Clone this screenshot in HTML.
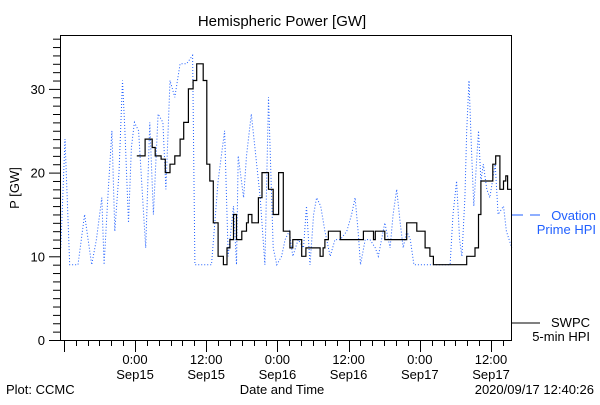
<!DOCTYPE html>
<html><head><meta charset="utf-8"><style>
html,body{margin:0;padding:0;background:#fff;}
svg text{font-family:"Liberation Sans",sans-serif;}
</style></head><body>
<svg id="chart" width="600" height="400" xmlns="http://www.w3.org/2000/svg">
<rect width="600" height="400" fill="#fff"/>
<text x="282" y="26" font-size="15" text-anchor="middle">Hemispheric Power [GW]</text>
<text transform="translate(19,188) rotate(-90)" font-size="13" text-anchor="middle">P [GW]</text>
<g id="axes"></g>
<g id="series"></g>
<rect x="60.5" y="35.5" width="451" height="305" fill="none" stroke="#000" stroke-width="1"/>
<line x1="512" y1="215" x2="523" y2="215" stroke="#1f5fff"/>
<line x1="530" y1="215" x2="540" y2="215" stroke="#1f5fff"/>
<text x="596" y="220" font-size="13" fill="#1f5fff" text-anchor="end">Ovation</text>
<text x="596" y="234" font-size="13" fill="#1f5fff" text-anchor="end">Prime HPI</text>
<line x1="512" y1="323" x2="540" y2="323" stroke="#000"/>
<text x="590" y="327" font-size="13" text-anchor="end">SWPC</text>
<text x="590" y="341" font-size="13" text-anchor="end">5-min HPI</text>
<text x="282" y="394" font-size="13" text-anchor="middle">Date and Time</text>
<text x="6" y="394" font-size="13">Plot: CCMC</text>
<text x="594" y="394" font-size="13" text-anchor="end">2020/09/17 12:40:26</text>
</svg>
<script>
const yTicks = [0, 10, 20, 30];
const xTickHours = [0, 12, 24, 36, 48, 60];
const xTickTimes = ["0:00", "12:00", "0:00", "12:00", "0:00", "12:00"];
const xTickDates = ["Sep15", "Sep15", "Sep16", "Sep16", "Sep17", "Sep17"];
const swpcHours = [0.3,1.2,1.7,2.7,2.9,3.4,4.0,4.4,5.1,5.9,6.7,7.6,8.2,9.0,9.8,10.4,11.0,11.5,12.1,12.6,13.2,14.0,14.9,15.5,16.0,16.6,17.1,18.0,18.8,19.1,19.7,20.2,20.8,21.4,21.9,22.5,23.3,23.6,24.2,24.6,25.0,25.8,26.1,26.6,27.8,28.1,28.8,30.9,31.2,31.7,32.0,32.6,34.6,37.6,38.5,39.9,40.2,40.5,42.1,45.2,45.8,46.9,47.5,48.3,48.9,49.7,50.3,55.6,55.9,56.7,57.3,57.9,58.3,59.8,60.3,60.8,61.5,62.1,62.5,62.8,63.5];
const swpcValues = [22,22,24,24,23,22,22,21.6,20,21,22,24,26,30,31,33,33,31,21,19,14,10,9,11,12,15,12,13,14,15,14,14,17,20,20,18,15,15,20,20,13,13,11,12,12,10,11,11,10,11,12,13,12,12,13,13,12,13,12,12,14,14,13,13,11,10,9,9,10,10,11,15,19,19,21,22,18,19,19.6,18,18];
const ovHours = [-12.5,-11.8,-11.0,-9.6,-8.5,-7.9,-7.3,-6.5,-5.6,-5.2,-4.5,-3.9,-3.4,-2.7,-2.1,-1.7,-1.1,-0.6,-0.1,0.6,1.2,1.8,2.5,3.1,3.9,4.7,5.2,5.9,6.7,7.6,8.7,9.7,10.1,12.9,14.0,15.1,15.7,16.6,17.1,17.4,18.3,18.8,19.6,20.2,21.1,21.9,22.5,23.3,23.9,24.7,25.3,26.0,26.6,27.5,28.4,28.9,29.5,30.1,30.6,31.3,32.0,32.9,33.7,34.6,35.7,36.5,37.1,37.6,38.0,38.8,39.6,40.5,41.0,42.1,43.0,43.5,44.1,44.7,45.2,45.8,46.4,47.0,53.1,53.6,54.2,54.7,55.1,55.6,55.9,56.3,56.7,57.1,57.9,58.3,58.7,59.3,59.8,60.7,61.2,62.1,62.6,63.5];
const ovValues = [11,24,9,9,15,12,9,12,17,9,18,25,13,20,31,25,14,23,26,25,18,11,26,15,27,26,18,31,29,33,33,34,9,9,19,25,10,16,9,22,17,22,27,23,17,9,29,11,9,10,12,13,10,12,11,16,9,15,17,16,13,10,12,12,13,15,17,13,9,12,12,11,10,14,11,15,18,14,11,13,12,9,9,15,19,12,10,17,25,31,23,16,25,19,21,18,17,21,15,16,13,11];

const NS = "http://www.w3.org/2000/svg";
function xScale(h){ return 135 + h * (71.2 / 12); }
function yScale(v){ return 340 - v * 8.37; }
function mk(tag, attrs, parent){ const e = document.createElementNS(NS, tag); for (const k in attrs) e.setAttribute(k, attrs[k]); parent.appendChild(e); return e; }
const axes = document.getElementById("axes");
const series = document.getElementById("series");

for (let v = 0; v <= 36; v++) {
  const major = v % 10 === 0;
  const t = mk("line", {x1: major ? 49 : 53, x2: 60, y1: yScale(v) + 0.5, y2: yScale(v) + 0.5, stroke: "#000"}, axes);
  
  
}
yTicks.forEach(v => {
  const t = mk("text", {x: 45, y: yScale(v) + 5, "font-size": 13, "text-anchor": "end"}, axes);
  t.textContent = String(v);
  
  
});
for (let h = -12; h <= 62; h += 2) {
  const major = h % 12 === 0;
  const x = Math.round(xScale(h)) + 0.5;
  if (x < 60 || x > 512) continue;
  const t = mk("line", {x1: x, x2: x, y1: 341, y2: major ? 352 : 346, stroke: "#000"}, axes);
  
  
}
xTickHours.forEach((h, i) => {
  const a = mk("text", {x: xScale(h), y: 364, "font-size": 13, "text-anchor": "middle"}, axes);
  a.textContent = xTickTimes[i];
  
  
  const b = mk("text", {x: xScale(h), y: 379, "font-size": 13, "text-anchor": "middle"}, axes);
  b.textContent = xTickDates[i];
  
  
});
const ovPts = ovHours.map((h, i) => xScale(h).toFixed(1) + "," + yScale(ovValues[i]).toFixed(1)).join(" ");
const ov = mk("polyline", {points: ovPts, fill: "none", stroke: "#1f5fff", "stroke-width": 1, "stroke-dasharray": "1 2"}, series);


const swArr = [];
swpcHours.forEach((h, i) => {
  const x = xScale(h).toFixed(1), y = yScale(swpcValues[i]).toFixed(1);
  if (i > 0) swArr.push(x + "," + yScale(swpcValues[i - 1]).toFixed(1));
  swArr.push(x + "," + y);
});
const sw = mk("polyline", {points: swArr.join(" "), fill: "none", stroke: "#000", "stroke-width": 1.2}, series);


</script>
</body></html>
